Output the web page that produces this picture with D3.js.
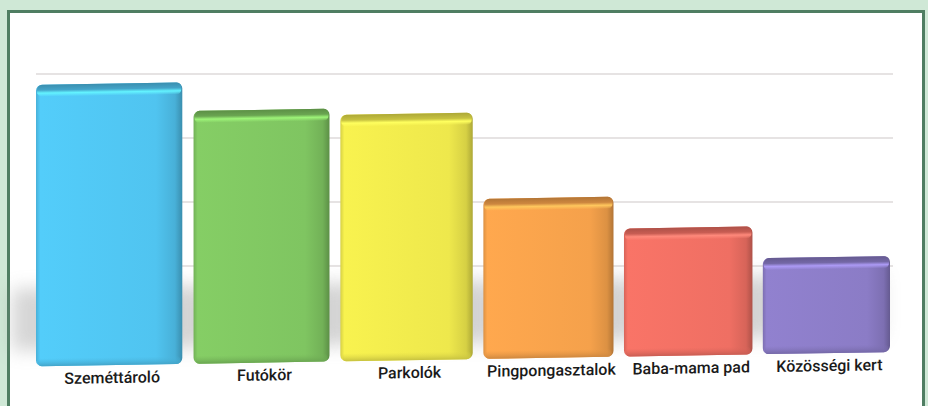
<!DOCTYPE html>
<html>
<head>
<meta charset="utf-8">
<script src="https://cdn.jsdelivr.net/npm/d3@7"></script>
<style>
	body { margin: 0; background: #cfe8d6; }
</style>
</head>
<body>
<script>
var categories = ["Szeméttároló", "Futókör", "Parkolók", "Pingpongasztalok", "Baba-mama pad", "Közösségi kert"];
var values = [88, 79, 77, 50, 40, 30];
var colors = ["#50c4f0", "#7fc561", "#eee84c", "#f5a14b", "#ef6f63", "#8b7cc6"];
var gridTicks = [30, 50, 70, 90];

var W = 928, H = 406;
var svg = d3.select("body")
	.append("svg")
	.attr("width", W)
	.attr("height", H)
	.style("display", "block");

var defs = svg.append("defs");
defs.append("filter")
	.attr("id", "blur")
	.attr("x", "-50%").attr("y", "-50%")
	.attr("width", "200%").attr("height", "200%")
	.append("feGaussianBlur")
	.attr("stdDeviation", 9);

// frame
svg.append("rect")
	.attr("width", W).attr("height", H)
	.attr("fill", "#cfe8d6");
svg.append("rect")
	.attr("x", 8.5).attr("y", 11.5)
	.attr("width", 915).attr("height", 420)
	.attr("fill", "#ffffff")
	.attr("stroke", "#4f7e62")
	.attr("stroke-width", 3);

// band scale on [0,1], then a mild perspective squeeze to pixels
var x = d3.scaleBand()
	.domain(categories)
	.range([0, 1])
	.paddingInner(0.075)
	.paddingOuter(0);
var px = d3.scalePow()
	.exponent(0.95)
	.domain([0, 1])
	.range([36, 890]);

var y = d3.scaleLinear()
	.domain([0, 100])
	.range([367, 47]);

function left(d) { return px(x(d)); }
function right(d) { return px(x(d) + x.bandwidth()); }

// gridlines (flat)
svg.append("g")
	.attr("transform", "translate(0,-5)")
	.selectAll("line")
	.data(gridTicks)
	.join("line")
	.attr("x1", 36)
	.attr("x2", 893)
	.attr("y1", d => y(d))
	.attr("y2", d => y(d))
	.attr("stroke", "#e6e3e3")
	.attr("stroke-width", 2);

// slight perspective tilt
var plot = svg.append("g")
	.attr("transform", "skewY(-0.96)");

// floor shadows
plot.append("g")
	.selectAll("rect")
	.data(categories)
	.join("rect")
	.attr("x", d => left(d) - 24)
	.attr("width", d => right(d) - left(d) + 16)
	.attr("y", y(0) - 78)
	.attr("height", 62)
	.attr("fill", "#8c8c8c")
	.attr("opacity", 0.36)
	.attr("filter", "url(#blur)");

// gradients for each bar
categories.forEach(function(c, i) {
	var base = d3.color(colors[i]);
	var g = defs.append("linearGradient")
		.attr("id", "side" + i)
		.attr("x1", 0).attr("x2", 1).attr("y1", 0).attr("y2", 0);
	g.append("stop").attr("offset", "0%").attr("stop-color", base.darker(0.3));
	g.append("stop").attr("offset", "3%").attr("stop-color", base.brighter(0.12));
	g.append("stop").attr("offset", "82%").attr("stop-color", base);
	g.append("stop").attr("offset", "95%").attr("stop-color", base.darker(0.3));
	g.append("stop").attr("offset", "100%").attr("stop-color", base.darker(0.9));

	var t = defs.append("linearGradient")
		.attr("id", "top" + i)
		.attr("x1", 0).attr("x2", 0).attr("y1", 0).attr("y2", 1);
	t.append("stop").attr("offset", "0%").attr("stop-color", base.darker(0.9));
	t.append("stop").attr("offset", "45%").attr("stop-color", base.darker(0.5));
	t.append("stop").attr("offset", "70%").attr("stop-color", base.brighter(0.6));
	t.append("stop").attr("offset", "100%").attr("stop-color", base.brighter(0.6)).attr("stop-opacity", 0);

	var b = defs.append("linearGradient")
		.attr("id", "bot" + i)
		.attr("x1", 0).attr("x2", 0).attr("y1", 0).attr("y2", 1);
	b.append("stop").attr("offset", "0%").attr("stop-color", base.darker(0.2)).attr("stop-opacity", 0);
	b.append("stop").attr("offset", "100%").attr("stop-color", base.darker(0.5));
});

var bars = plot.append("g")
	.selectAll("g")
	.data(categories)
	.join("g");

bars.append("rect")
	.attr("x", d => left(d))
	.attr("y", (d, i) => y(values[i]))
	.attr("width", d => right(d) - left(d))
	.attr("height", (d, i) => y(0) - y(values[i]))
	.attr("rx", 6)
	.attr("fill", (d, i) => "url(#side" + i + ")");

bars.append("rect")
	.attr("x", d => left(d) + 1)
	.attr("y", (d, i) => y(values[i]))
	.attr("width", d => right(d) - left(d) - 2)
	.attr("height", 12)
	.attr("rx", 5)
	.attr("fill", (d, i) => "url(#top" + i + ")");

bars.append("rect")
	.attr("x", d => left(d) + 2)
	.attr("y", y(0) - 8)
	.attr("width", d => right(d) - left(d) - 4)
	.attr("height", 8)
	.attr("rx", 4)
	.attr("fill", (d, i) => "url(#bot" + i + ")");

// category labels
plot.append("g")
	.selectAll("text")
	.data(categories)
	.join("text")
	.attr("x", d => (left(d) + right(d)) / 2 + 3)
	.attr("y", y(0) + 18)
	.attr("text-anchor", "middle")
	.attr("font-family", "Roboto, sans-serif")
	.attr("font-weight", 500)
	.attr("font-size", "16px")
	.attr("fill", "#1a1a1a")
	.text(d => d);
</script>
</body>
</html>
